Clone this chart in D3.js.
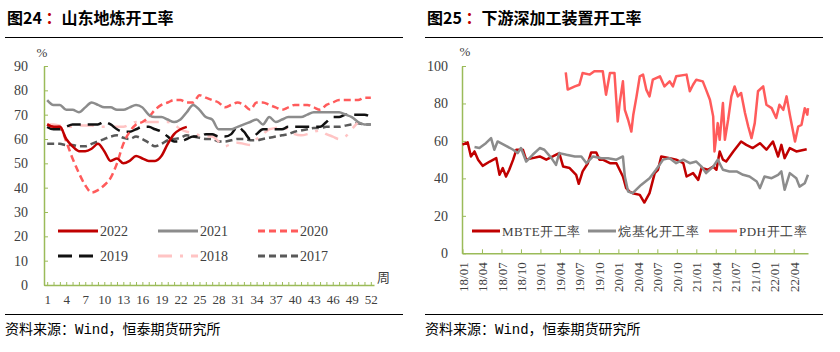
<!DOCTYPE html>
<html>
<head>
<meta charset="utf-8">
<script src="https://cdn.jsdelivr.net/npm/d3@7"></script>
<style>
  body { margin: 0; background: #fff; }
  svg { display: block; }
</style>
</head>
<body>
<svg id="chart" width="840" height="352"></svg>
<script>
// ---- left chart: 山东地炼开工率, weekly values (weeks 1..52)
const weeks = d3.range(1, 53);
const weekLabels = d3.range(1, 53, 3);
const leftYTicks = [0, 10, 20, 30, 40, 50, 60, 70, 80, 90];

const y2022 = [66, 65, 65, 60, 57, 55, 55, 56, 58, 55, 51, 52, 50, 51, 53, 52, 51, 51, 53, 58, 62, 64, 65];
const y2021 = [76, 74, 74, 72, 72, 71, 73, 75, 74, 73, 73, 72, 72, 73, 74, 73, 70, 69, 69, 68, 67, 68, 71, 74, 72, 69,
  68, 64, 64, 64, 65, 66, 67, 68, 66, 69, 67, 68, 69, 69, 69, 70, 71, 71, 71, 71, 71, 70, 69, 67, 66, 66];
const y2020 = [66, 65, 65, 59, 52, 46, 41, 38, 39, 41, 44, 50, 58, 63, 66, 67, 69, 72, 74, 75, 76, 76, 75, 75, 78, 77,
  76, 75, 73, 74, 75, 74, 72, 75, 75, 74, 73, 72, 73, 74, 74, 74, 73, 72, 74, 75, 76, 76, 76, 76, 77, 77];
const y2019 = [65, 64, 64, 65, 66, 66, 66, 66, 66, 67, 66, 64, 63, 63, 64, 65, 65, 64, 63, 61, 59, 59, 60, 61, 61, 62,
  62, 61, 61, 62, 65, 63, 60, 62, 64, 64, 64, 64, 65, 65, 65, 65, 65, 65, 67, 69, 69, 70, 70, 70, 70, 69];
const y2018 = [66, 66, 65.5, 65, 65, 65.5, 65.5, 65.5, 65, 65, 65, 65, 65, 66, 67, 67, 67, 67, 67, 67, 66, 64, 63, 62.5, 61.5, 61,
  61, 59, 57, 58, 58.5, 58, 57.5, 60, 62, 64, 64.5, 65, 64, 62, 61.5, 62, 63, 63.5, 62, 61, 60, 61, 64, 67];
const y2017 = [58, 58, 58, 57.5, 57.5, 57, 57, 58, 59, 60, 61, 61.5, 60.5, 60, 61, 60, 58.5, 57, 58, 59.5, 60, 60.5, 61.5, 61, 60.5, 60,
  60, 59, 59, 59.5, 60, 60, 59.5, 59.5, 60, 60.5, 61, 61.5, 62, 63, 63.5, 64, 64.5, 64.5, 65, 65, 65, 65.5, 66, 66.5, 66, 66];

// ---- right chart: 下游深加工装置开工率, months since 2018/01 and values
const quarterLabels = ["18/01", "18/04", "18/07", "18/10", "19/01", "19/04", "19/07", "19/10", "20/01",
  "20/04", "20/07", "20/10", "21/01", "21/04", "21/07", "21/10", "22/01", "22/04"];
const rightYTicks = [0, 20, 40, 60, 80, 100];

const mbteT = [0, 0.8, 1.3, 1.85, 2.4, 3.1, 4.2, 5.2, 5.7, 6.2, 6.7, 7.2, 7.8, 8.3, 9.3, 9.8, 10.8, 11.9, 12.9, 13.9,
  14.9, 15.5, 16.5, 17.5, 17.9, 18.5, 19.3, 19.8, 20.6, 21.1, 21.6, 22.7, 23.7, 24.7, 25.2, 25.7, 26.2, 27.3, 28.0, 28.8,
  29.6, 30.1, 30.6, 31.9, 32.9, 34, 34.5, 35.5, 36.3, 36.8, 37.8, 38.6, 39.1, 39.6, 40.1, 40.6, 41.7, 42.9, 43.7, 44.7,
  45.8, 46.8, 47.8, 48.6, 49.1, 49.6, 50.4, 51.4, 53];
const mbteV = [58, 59.2, 51.7, 54.4, 50, 46.7, 49, 50.8, 41.9, 45.5, 41, 44.6, 50, 55.3, 55.3, 50, 50.8, 51.7, 50, 51.7,
  53.5, 46.3, 45.5, 41.9, 37.1, 43.7, 48.1, 53.8, 53.8, 50, 50, 48.1, 48.1, 41, 34.8, 33, 32.1, 31.2, 27.1, 32.1,
  42.8, 44.6, 51.7, 50.8, 50, 48.1, 41, 42.8, 39.2, 45.5, 44.6, 46.3, 44.6, 54.4, 50, 49, 54.4, 59.7, 57.9, 56.2,
  58.8, 55.3, 59.7, 51.7, 57.9, 50.8, 56.2, 54.4, 55.6];

const alkT = [1.85, 2.6, 3.6, 4.4, 4.9, 5.4, 6.7, 7.8, 8.5, 9.0, 9.8, 10.8, 11.9, 12.6, 13.7, 14.4, 14.9, 16, 17.3, 18.3,
  19.1, 20.1, 21.4, 22.4, 23.7, 24.7, 25, 25.5, 26.2, 27.5, 28.8, 29.8, 30.9, 31.9, 32.9, 34, 35, 36, 36.8, 37.5,
  38.6, 39.3, 40.1, 41.1, 42.2, 43.2, 44.2, 45.3, 45.8, 46.5, 47.6, 48.6, 49.1, 49.6, 50.4, 51.4, 51.9, 52.7, 53.2];
const alkV = [56.7, 56.2, 58.8, 61.5, 55.3, 59.7, 57.4, 55.3, 53.5, 56.2, 49, 52.6, 56.2, 55.3, 50.8, 47.2, 53.5, 52.6, 51.7, 51.7,
  48.1, 51.7, 50.8, 50.8, 50, 51.7, 41, 33, 32.1, 36.5, 40.1, 44.6, 50, 50.8, 48.1, 50, 48.1, 49, 46.3, 42.8,
  46.3, 50, 44.6, 43.7, 43.7, 41.9, 41, 38.3, 34.8, 41, 40.1, 41.9, 43.7, 33.9, 42.8, 40.1, 35.6, 37.4, 41.9];

const pdhT = [15.9, 16.2, 17.3, 18, 18.5, 19.6, 20.3, 21.6, 22.1, 22.7, 23.4, 23.9, 24.2, 24.7, 25, 25.5, 26, 26.3, 26.8, 27.3,
  27.8, 28.3, 28.8, 29.3, 30.4, 31.1, 31.9, 32.4, 32.9, 34.5, 35, 35.5, 36, 37, 37.5, 38.1, 38.6, 38.8, 39.3, 39.6,
  40.1, 40.4, 40.9, 41.4, 41.9, 42.4, 42.9, 43.5, 44, 44.5, 45, 45.5, 46.3, 46.8, 47.6, 48.3, 48.8, 49.4, 49.9, 50.4,
  51.2, 51.7, 52.2, 52.7, 53.1, 53.2];
const pdhV = [96.6, 87.4, 89.1, 90, 96.3, 95.4, 97.2, 97.2, 84.7, 96.3, 96.3, 70.4, 80.2, 91.8, 76.6, 71.3, 65, 74, 83.8, 94.5,
  95.4, 87.4, 83.8, 92.7, 94.5, 89.1, 91.8, 89.1, 94.5, 95.4, 86.5, 90, 92.7, 91.8, 87.4, 82, 73.1, 54.4, 69.5, 60.6,
  80.2, 60.6, 71.3, 83.8, 89.1, 83.8, 85.6, 74.9, 67.7, 61.5, 69.5, 86.5, 89.1, 79.3, 77.5, 72.2, 79.3, 76.6, 83.8, 74,
  59.7, 67.7, 68.6, 77.5, 74, 77.5];

const svg = d3.select("#chart");
const axisGreen = "#9bbb59";
const serif = "'Liberation Serif', 'Times New Roman', serif";
const cjk = "'Noto Sans CJK SC', sans-serif";

// ---------- titles, rules, sources
function header(x0, x1, num, title) {
  const t = svg.append("text").attr("x", x0 + 2).attr("y", 24)
    .style("font-family", cjk).style("font-size", "16px").style("font-weight", "bold").attr("fill", "#000");
  t.append("tspan").text(num);
  t.append("tspan").attr("fill", "#c00000").text(" ：");
  t.append("tspan").text(title);
  svg.append("line").attr("x1", x0).attr("x2", x1).attr("y1", 37.5).attr("y2", 37.5)
    .attr("stroke", "#000").attr("stroke-width", 1);
  svg.append("line").attr("x1", x0).attr("x2", x1).attr("y1", 314.5).attr("y2", 314.5)
    .attr("stroke", "#000").attr("stroke-width", 1);
  const s = svg.append("text").attr("x", x0).attr("y", 334)
    .style("font-family", cjk).style("font-size", "14px").attr("fill", "#000");
  s.append("tspan").text("资料来源：");
  s.append("tspan").style("font-family", "'Liberation Mono', 'DejaVu Sans Mono', monospace").text("Wind");
  s.append("tspan").text("，恒泰期货研究所");
}
header(5, 403, "图24", "山东地炼开工率");
header(425, 823, "图25", "下游深加工装置开工率");

function styleAxis(g) {
  g.select(".domain").attr("stroke", axisGreen).attr("stroke-width", 1.5);
  g.selectAll(".tick line").attr("stroke", axisGreen).attr("stroke-width", 1);
  g.selectAll(".tick text").attr("fill", "#404040").style("font-family", serif);
}

// ---------- left chart
const xL = d3.scaleLinear().domain([0.5, 52.5]).range([44, 374]);
const yL = d3.scaleLinear().domain([0, 90]).range([285, 66]);

svg.append("g").attr("transform", "translate(44,0)")
  .call(d3.axisLeft(yL).tickValues(leftYTicks).tickSize(-4).tickPadding(16).tickSizeOuter(0))
  .call(styleAxis)
  .call(g => g.selectAll(".tick text").style("font-size", "14px"));

svg.append("g").attr("transform", "translate(0,285)")
  .call(d3.axisBottom(xL).tickValues(weeks).tickSize(-3).tickPadding(10).tickSizeOuter(0)
    .tickFormat(d => weekLabels.includes(d) ? d : ""))
  .call(styleAxis)
  .call(g => g.selectAll(".tick text").style("font-size", "13px"));

svg.append("text").attr("x", 42).attr("y", 57).attr("text-anchor", "middle")
  .style("font-family", serif).style("font-size", "13px").attr("fill", "#404040").text("%");
svg.append("text").attr("x", 377).attr("y", 282)
  .style("font-family", cjk).style("font-size", "13px").attr("fill", "#404040").text("周");

const leftSeries = [
  { name: "2022", values: y2022, color: "#c00000", dash: null },
  { name: "2021", values: y2021, color: "#8c8c8c", dash: null },
  { name: "2020", values: y2020, color: "#ff5b5b", dash: "7,4" },
  { name: "2019", values: y2019, color: "#111111", dash: "14,7" },
  { name: "2018", values: y2018, color: "#ffc4c4", dash: "14,8,3,8" },
  { name: "2017", values: y2017, color: "#595959", dash: "7,4" }
];

const lineL = d3.line().x((d, i) => xL(i + 1)).y(d => yL(d)).curve(d3.curveMonotoneX);

// draw older years first so 2022 stays on top
leftSeries.slice().reverse().forEach(s => {
  svg.append("path").datum(s.values)
    .attr("d", lineL)
    .attr("fill", "none")
    .attr("stroke", s.color)
    .attr("stroke-width", 2.5)
    .attr("stroke-dasharray", s.dash);
});

leftSeries.forEach((s, i) => {
  const col = i % 3, row = Math.floor(i / 3);
  const lx = 58 + col * 100, ly = 231 + row * 25;
  svg.append("line").attr("x1", lx).attr("x2", lx + 40).attr("y1", ly).attr("y2", ly)
    .attr("stroke", s.color).attr("stroke-width", 3).attr("stroke-dasharray", s.dash);
  svg.append("text").attr("x", lx + 42).attr("y", ly + 5)
    .style("font-family", serif).style("font-size", "14px").attr("fill", "#404040").text(s.name);
});

// ---------- right chart
const xR = d3.scaleLinear().domain([0, 53.2]).range([462.5, 808]);
const yR = d3.scaleLinear().domain([0, 100]).range([253.3, 66]);

svg.append("g").attr("transform", "translate(462,0)")
  .call(d3.axisLeft(yR).tickValues(rightYTicks).tickSize(-4).tickPadding(14).tickSizeOuter(0))
  .call(styleAxis)
  .call(g => g.selectAll(".tick text").style("font-size", "14px"));

svg.append("g").attr("transform", "translate(0,253.3)")
  .call(d3.axisBottom(xR).tickValues(quarterLabels.map((d, i) => i * 3)).tickSize(-4).tickSizeOuter(0)
    .tickFormat((d, i) => quarterLabels[i]))
  .call(styleAxis)
  .call(g => g.selectAll(".tick text")
    .style("font-size", "13px")
    .attr("text-anchor", "end")
    .attr("transform", "rotate(-90)")
    .attr("x", -9).attr("y", 0).attr("dy", "0.35em"));

svg.append("text").attr("x", 465).attr("y", 56).attr("text-anchor", "middle")
  .style("font-family", serif).style("font-size", "13px").attr("fill", "#404040").text("%");

const rightSeries = [
  { name: "MBTE开工率", t: mbteT, v: mbteV, color: "#c00000" },
  { name: "烷基化开工率", t: alkT, v: alkV, color: "#8c8c8c" },
  { name: "PDH开工率", t: pdhT, v: pdhV, color: "#ff5b5b" }
];

const lineR = d3.line().x(d => xR(d[0])).y(d => yR(d[1]));

rightSeries.forEach(s => {
  svg.append("path").datum(s.t.map((t, i) => [t, s.v[i]]))
    .attr("d", lineR)
    .attr("fill", "none")
    .attr("stroke", s.color)
    .attr("stroke-width", 2.5)
    .attr("stroke-linejoin", "round");
});

const legendX = [472, 588, 709];
rightSeries.forEach((s, i) => {
  svg.append("line").attr("x1", legendX[i]).attr("x2", legendX[i] + 28).attr("y1", 231).attr("y2", 231)
    .attr("stroke", s.color).attr("stroke-width", 3);
  svg.append("text").attr("x", legendX[i] + 30).attr("y", 236)
    .style("font-family", serif).style("font-size", "13px").style("letter-spacing", "0.5px")
    .attr("fill", "#404040").text(s.name);
});
</script>
</body>
</html>
